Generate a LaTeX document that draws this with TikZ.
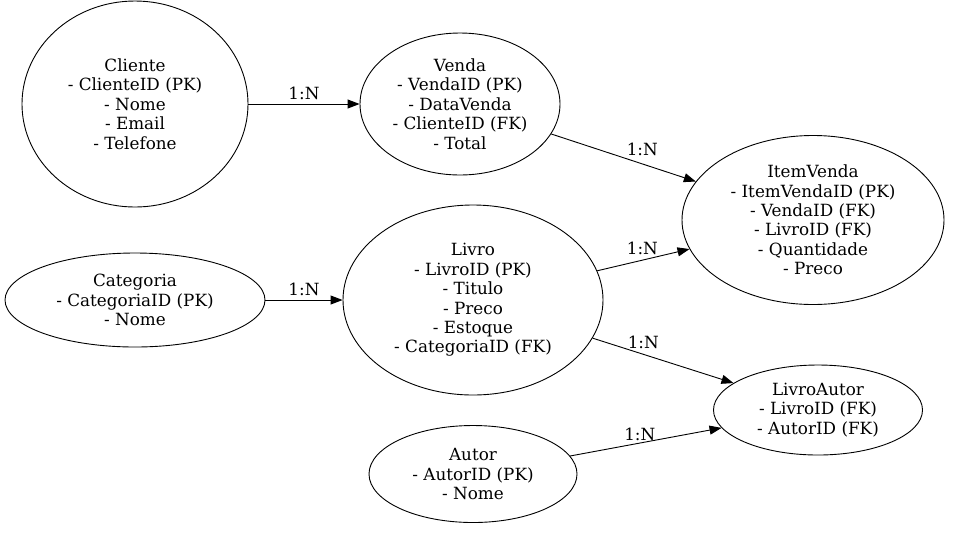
\documentclass[tikz,border=0pt]{standalone}
\usepackage{fontspec}
\setmainfont{DejaVu Serif}
\usetikzlibrary{shapes.geometric,arrows.meta}
\begin{document}
\begin{tikzpicture}[x=1pt,y=-1pt,
  ent/.style={draw,ellipse,inner sep=0pt,align=center,line width=0.9pt,
    font=\fontsize{16.8}{19.4}\selectfont},
  rel/.style={-{Triangle[length=12pt,width=9pt]},line width=0.9pt},
  lab/.style={font=\fontsize{16.8}{19}\selectfont,inner sep=0pt}]
\useasboundingbox (0,0) rectangle (960,550);
\node[ent,minimum width=226pt,minimum height=206pt] (cli) at (135,104)
  {Cliente\\- ClienteID (PK)\\- Nome\\- Email\\- Telefone};
\node[ent,minimum width=200pt,minimum height=142pt] (ven) at (460,104)
  {Venda\\- VendaID (PK)\\- DataVenda\\- ClienteID (FK)\\- Total};
\node[ent,minimum width=262pt,minimum height=169pt] (item) at (813,220)
  {ItemVenda\\- ItemVendaID (PK)\\- VendaID (FK)\\- LivroID (FK)\\- Quantidade\\- Preco};
\node[ent,minimum width=260pt,minimum height=94pt] (cat) at (135,300)
  {Categoria\\- CategoriaID (PK)\\- Nome};
\node[ent,minimum width=260pt,minimum height=190pt] (liv) at (473,300)
  {Livro\\- LivroID (PK)\\- Titulo\\- Preco\\- Estoque\\- CategoriaID (FK)};
\node[ent,minimum width=209pt,minimum height=90pt] (la) at (818,410)
  {LivroAutor\\- LivroID (FK)\\- AutorID (FK)};
\node[ent,minimum width=208pt,minimum height=97pt] (aut) at (473,474)
  {Autor\\- AutorID (PK)\\- Nome};
\draw[rel] (cli) -- node[lab,above=4pt]{1:N} (ven);
\draw[rel] (ven) -- node[lab,above=8pt,pos=0.63]{1:N} (item);
\draw[rel] (liv) -- node[lab,above=5pt,pos=0.49]{1:N} (item);
\draw[rel] (cat) -- node[lab,above=4pt]{1:N} (liv);
\draw[rel] (liv) -- node[lab,above=5pt,pos=0.36]{1:N} (la);
\draw[rel] (aut) -- node[lab,above=2pt,pos=0.46]{1:N} (la);
\end{tikzpicture}
\end{document}
